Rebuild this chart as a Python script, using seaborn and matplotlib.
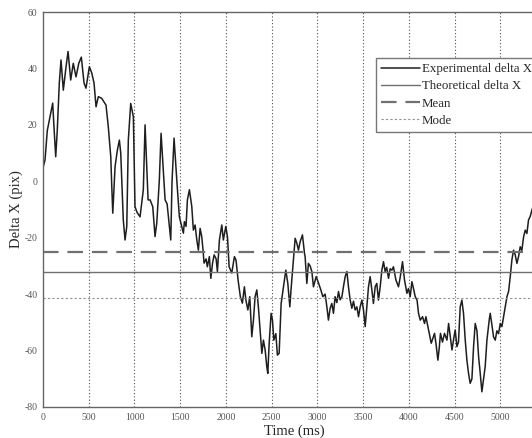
#!/usr/bin/env python
# -*- coding: utf-8 -*-

"""
Plot delta X over time (experimental vs theoretical)
"""

import matplotlib.pyplot as plt
import numpy as np
import pandas as pd
import seaborn as sns

# values
time_ms = [3, 22, 47, 77, 106, 120, 139, 156, 178, 197, 222, 252, 274, 303, 331,
           361, 391, 419, 449, 470, 507, 533, 558, 580, 605, 642, 689, 714, 741,
           752, 763, 788, 813, 835, 850, 878, 897, 916, 933, 959, 988, 1006, 1028,
           1061, 1097, 1116, 1149, 1171, 1200, 1225, 1244, 1272, 1291, 1335, 1357,
           1382, 1397, 1411, 1433, 1463, 1491, 1517, 1535, 1546, 1564, 1579, 1601,
           1627, 1644, 1663, 1682, 1699, 1718, 1736, 1750, 1761, 1783, 1797, 1819,
           1835, 1854, 1871, 1893, 1907, 1929, 1955, 1972, 1999, 2018, 2035, 2064,
           2093, 2111, 2133, 2158, 2180, 2202, 2218, 2240, 2261, 2283, 2301, 2319,
           2338, 2355, 2374, 2393, 2410, 2429, 2447, 2458, 2472, 2494, 2509, 2524,
           2546, 2563, 2582, 2604, 2629, 2655, 2677, 2699, 2713, 2738, 2757, 2776,
           2793, 2812, 2837, 2859, 2866, 2885, 2902, 2921, 2940, 2957, 2987, 3012,
           3038, 3060, 3085, 3104, 3121, 3140, 3158, 3176, 3194, 3213, 3231, 3249,
           3268, 3285, 3304, 3323, 3340, 3359, 3377, 3395, 3413, 3432, 3450, 3468,
           3487, 3504, 3523, 3541, 3559, 3577, 3596, 3613, 3632, 3650, 3668, 3687,
           3705, 3723, 3741, 3758, 3778, 3796, 3815, 3832, 3859, 3887, 3906, 3931,
           3953, 3979, 3996, 4015, 4034, 4051, 4070, 4090, 4106, 4125, 4150, 4172,
           4187, 4209, 4223, 4245, 4259, 4281, 4297, 4318, 4333, 4346, 4368, 4390,
           4417, 4435, 4453, 4472, 4490, 4507, 4526, 4543, 4562, 4580, 4598, 4617,
           4635, 4653, 4671, 4690, 4708, 4726, 4745, 4763, 4781, 4799, 4817, 4835,
           4854, 4879, 4890, 4909, 4926, 4945, 4963, 4981, 5000, 5018, 5036, 5054,
           5073, 5091, 5109, 5127, 5145, 5163, 5182, 5200, 5218, 5236, 5255, 5273,
           5291, 5309, 5327, 5346, 5400]
delta_x = [5.2, 7.5, 18, 22.9, 27.7, 19.3, 8.7, 18, 34.7, 43, 32.3, 40.6, 46, 35.9, 41.8,
           37, 41.8, 44, 34.8, 33, 40.6, 38.4, 34.8, 26.4, 30, 29.4, 27, 19.3, 8.7,
           -1.9, -11.3, 5.2, 11, 14.6, 10, -13.7, -20.8, -16, 14.6, 27.6, 22.9, -9, -11,
           -12.6, -3, 20, -6.6, -6.6, -9, -19.6, -14.8, 0.4, 17, -6.6, -8,
           -16, -20.8, 0, 15.3, 0.4, -12.6, -16, -18.4, -14.3, -16, -6.6, -3,
           -9, -17.3, -15.5, -20.8, -24.4, -16.7, -19.7, -24.4, -29, -27.5, -30.3, -26.7,
           -34.4, -29, -26.1, -27.5, -32, -20.8, -15.5, -20.8, -16, -20, -30.3, -32.5,
           -26.7, -28, -35, -40.9, -43.2, -37.4, -42, -45.6, -40.9, -55.1, -49.2, -40.9,
           -38.5, -44.5, -52.7, -61, -56.3, -59.8, -65.7, -68.1, -58, -46.8, -49.2, -56.3,
           -54, -61.6, -61, -43.3, -37.4, -31.5, -36.2, -44.5, -38, -27.9, -20.2, -22,
           -24.4, -21.4, -19, -25.5, -26.7, -36.2, -29.1, -30, -32, -37.4, -33.8, -36,
           -38.5, -40.9, -40, -44.5, -49.2, -45, -43.3, -46.8, -40.9, -43, -39.1, -42,
           -41, -37.4, -33.8, -32, -37.4, -42.1, -45, -42.5, -45.6, -44.5, -48, -44.5,
           -42.1, -45.5, -51.5, -44.5, -37.4, -33.8, -38.5, -43.3, -37.4, -36.2, -42.1, -37.4,
           -31.5, -28.5, -32, -30.5, -34.4, -31, -31.5, -30.3, -35, -37.4, -34, -28.5,
           -35, -39.7, -38, -40.9, -35.6, -38, -40.9, -42.1, -46.8, -49.2, -48, -50.4,
           -48, -51.5, -53.9, -57.4, -56, -53.9, -57.5, -63.4, -59, -53.9, -57, -53.9,
           -56.3, -50.4, -55, -59.8, -56, -52.7, -58.6, -57, -44.5, -42.1, -46.8, -56.3,
           -63.4, -68.1, -71.6, -70, -58.6, -50.4, -53, -62.2, -68.1, -74.6, -70, -65.7,
           -56.3, -49.2, -46.8, -51, -55.1, -56.3, -53, -54, -50.4, -51.5, -48, -44.5,
           -40.9, -39, -33.8, -27.9, -24.4, -26, -29.1, -26.7, -23.2, -24.5, -19.7, -17.3,
           -18.5, -13.7, -12.5, -10.2, -5]

theoretical_dx = -32.0
mean_dx = -25.0
mode_dx = -41.5

x_ticks = [0, 500, 1000, 1500, 2000, 2500, 3000, 3500, 4000, 4500, 5000]
y_ticks = [-80, -60, -40, -20, 0, 20, 40, 60]


def main():
  df = pd.DataFrame({'time': time_ms, 'dx': delta_x})

  sns.set_style("white")
  plt.rcParams['font.family'] = ['Liberation Serif', 'DejaVu Serif']
  plt.rcParams['axes.unicode_minus'] = False

  fig = plt.figure(figsize=(5.32, 4.38), dpi=100)
  # the reference is cropped on the right, so the axes run past the figure edge
  ax = fig.add_axes([43 / 532, 1 - 407 / 438, 503 / 532, 395 / 438])

  sns.lineplot(data=df, x='time', y='dx', ax=ax, color='#1e1e1e', linewidth=1.1,
               label='Experimental delta X', estimator=None, sort=False)
  ax.axhline(theoretical_dx, color='#707070', linewidth=1.0, label='Theoretical delta X')
  ax.axhline(mean_dx, color='#707070', linewidth=1.6, dashes=(7, 4), label='Mean')
  ax.axhline(mode_dx, color='#909090', linewidth=0.8, linestyle=(0, (2, 2)), label='Mode')

  for t in x_ticks[1:]:
    ax.axvline(t, color='#505050', linewidth=0.8, linestyle=(0, (1, 2)), zorder=0)

  ax.set_xlim(0, 5500)
  ax.set_ylim(-80, 60)
  ax.set_xticks(x_ticks)
  ax.set_yticks(y_ticks)
  ax.tick_params(direction='in', length=3, width=0.6, colors='#777777',
                 labelsize=7, labelcolor='#555555', pad=4)

  for side in ['left', 'bottom', 'top', 'right']:
    ax.spines[side].set_color('#666666')
    ax.spines[side].set_linewidth(1.0)

  ax.set_xlabel('Time (ms)', fontsize=10.5, labelpad=2)
  ax.set_ylabel('Delta X (pix)', fontsize=10.5, labelpad=1)

  ax.legend(loc='upper left', bbox_to_anchor=(376 / 532, 1 - 58 / 438),
            bbox_transform=fig.transFigure, fancybox=False, framealpha=1,
            edgecolor='#777777', fontsize=9.3, handlelength=3.0,
            handletextpad=0.15, labelspacing=0.4, borderpad=0.4,
            borderaxespad=0)

  plt.savefig('out.png', dpi=100)
  plt.close()


if __name__ == '__main__':
  main()
